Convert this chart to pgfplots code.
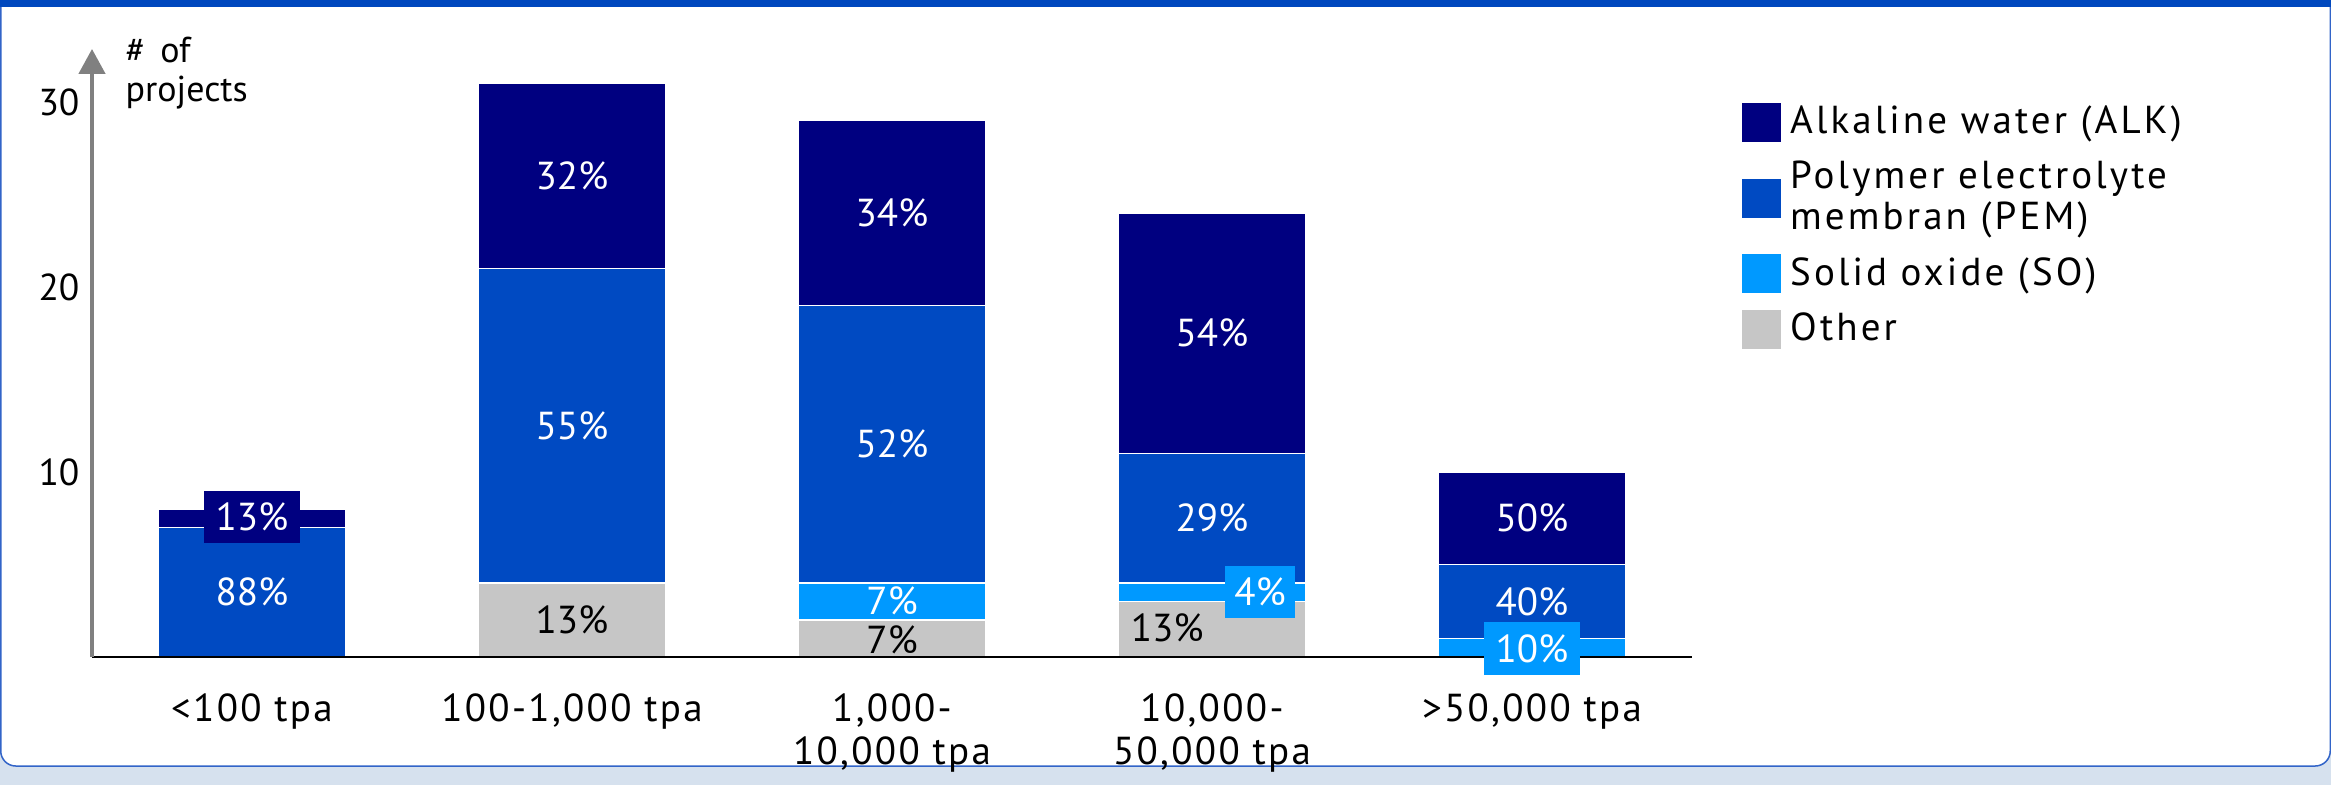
\documentclass[border=0pt]{standalone}
\usepackage{pgfplots}
\pgfplotsset{compat=1.18}
\usetikzlibrary{arrows.meta}
\usepackage{fontspec}
\setmainfont{PT Sans}
\newfontfamily\legfont[LetterSpace=8]{PT Sans}
\newfontfamily\tickfont[LetterSpace=6]{PT Sans}
\definecolor{alk}{RGB}{0,0,128}
\definecolor{pem}{RGB}{0,74,194}
\definecolor{so}{RGB}{0,153,255}
\definecolor{oth}{RGB}{198,198,198}
\definecolor{band}{RGB}{0,72,190}
\definecolor{bgc}{RGB}{214,225,238}
\definecolor{border}{RGB}{50,100,200}
\begin{document}
\fontsize{12pt}{14.5pt}\selectfont
\begin{tikzpicture}
\path[use as bounding box] (0,0) rectangle (777pt,261.67pt);
\fill[bgc] (0,0) rectangle (777pt,261.67pt);
\filldraw[fill=white, draw=border, line width=0.5pt, rounded corners=5pt] (0.25pt,6.33pt) rectangle (776.75pt,275pt);
\fill[band] (0,259.3pt) rectangle (777pt,261.67pt);
\begin{axis}[
  at={(30.67pt,42.67pt)}, anchor=south west,
  scale only axis, width=533.33pt, height=202.67pt,
  xmin=-0.5, xmax=4.5, ymin=0, ymax=32.86,
  ybar stacked, bar width=0.584,
  axis x line=bottom, axis y line=left,
  axis on top,
  x axis line style={-, black, line width=0.7pt},
  y axis line style={-{Triangle[width=8.7pt,length=8.3pt]}, draw=gray, line width=1.3pt},
  xtick={0,1,2,3,4},
  xticklabels={{<100 tpa},{100-1,000 tpa},{1,000-\\10,000 tpa},{10,000-\\50,000 tpa},{>50,000 tpa}},
  xticklabel style={align=center, anchor=north, yshift=-8pt, font=\tickfont\fontsize{13pt}{14.3pt}\selectfont},
  ytick={10,20,30},
  yticklabel style={font=\fontsize{12.5pt}{14pt}\selectfont},
  /pgf/number format/assume math mode=true,
  major tick length=0pt,
  every axis plot/.append style={draw=white, line width=0.6pt},
  legend image code/.code={\fill[#1, draw=none] (0pt,-6.5pt) rectangle (13pt,6.5pt);},
  reverse legend,
  legend cell align=left,
  legend style={draw=none, fill=none, at={(rel axis cs:1.031,0.918)}, anchor=north west,
    inner sep=0pt, row sep=3.4pt, column sep=1pt,
    cells={align=left, inner ysep=0.5pt},
    font=\legfont\fontsize{13pt}{13.8pt}\selectfont},
]
\addplot[fill=oth] coordinates {(0,0) (1,4) (2,2) (3,3) (4,0)};
\addlegendentry{Other}
\addplot[fill=so] coordinates {(0,0) (1,0) (2,2) (3,1) (4,1)};
\addlegendentry{Solid oxide (SO)}
\addplot[fill=pem] coordinates {(0,7) (1,17) (2,15) (3,7) (4,4)};
\addlegendentry{Polymer electrolyte\\membran (PEM)}
\addplot[fill=alk] coordinates {(0,1) (1,10) (2,10) (3,13) (4,5)};
\addlegendentry{Alkaline water (ALK)}
\coordinate (a1) at (axis cs:0,3.5);
\coordinate (a2) at (axis cs:0,7.55);
\coordinate (b1) at (axis cs:1,2);
\coordinate (b2) at (axis cs:1,12.5);
\coordinate (b3) at (axis cs:1,26);
\coordinate (c1) at (axis cs:2,0.95);
\coordinate (c2) at (axis cs:2,3.05);
\coordinate (c3) at (axis cs:2,11.5);
\coordinate (c4) at (axis cs:2,24);
\coordinate (d1) at (axis cs:2.86,1.6);
\coordinate (d2) at (axis cs:3.15,3.5);
\coordinate (d3) at (axis cs:3,7.5);
\coordinate (d4) at (axis cs:3,17.5);
\coordinate (e1) at (axis cs:4,0.46);
\coordinate (e2) at (axis cs:4,3);
\coordinate (e3) at (axis cs:4,7.5);
\end{axis}
\begin{scope}[every node/.style={font=\fontsize{13pt}{14pt}\selectfont}]
\node[text=white] at (a1) {88\%};
\node[text=white, fill=alk, inner xsep=4pt, minimum height=15pt] at (a2) {13\%};
\node[text=black] at (b1) {13\%};
\node[text=white] at (b2) {55\%};
\node[text=white] at (b3) {32\%};
\node[text=black] at (c1) {7\%};
\node[text=white] at (c2) {7\%};
\node[text=white] at (c3) {52\%};
\node[text=white] at (c4) {34\%};
\node[text=black] at (d1) {13\%};
\node[text=white, fill=so, inner xsep=3pt, minimum height=14pt] at (d2) {4\%};
\node[text=white] at (d3) {29\%};
\node[text=white] at (d4) {54\%};
\node[text=white, fill=so, inner xsep=4pt, minimum height=15pt] at (e1) {10\%};
\node[text=white] at (e2) {40\%};
\node[text=white] at (e3) {50\%};
\end{scope}
\node[anchor=base west, inner sep=0pt, font=\fontsize{12pt}{13pt}\selectfont] at (41.7pt,240.7pt) {\#\hspace{5pt}of};
\node[anchor=base west, inner sep=0pt, font=\fontsize{12pt}{13pt}\selectfont] at (41.7pt,227.7pt) {projects};
\end{tikzpicture}
\end{document}
